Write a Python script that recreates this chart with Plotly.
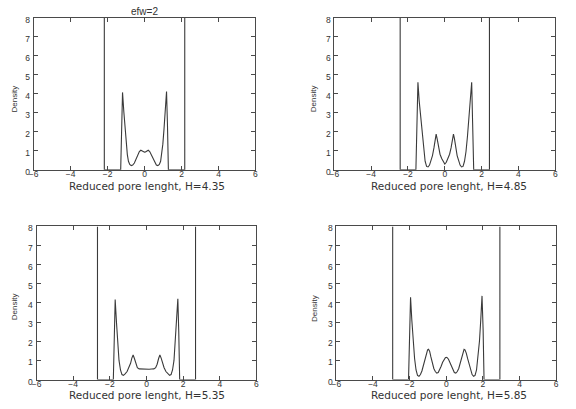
import plotly.graph_objects as go

W, H_PX = 576, 409

# ---- data ----
H_VALUES = [4.35, 4.85, 5.35, 5.85]
WALLS = [2.175, 2.425, 2.675, 2.925]          # wall positions (±H/2)
WALL_TOP = 8.0

P1_X = [-1.29, -1.24, -1.19, -1.12, -1.05, -0.99, -0.93, -0.87, -0.80, -0.72, -0.64, -0.55,
        -0.46, -0.37, -0.28, -0.20, -0.12, -0.05, 0.0, 0.05, 0.12, 0.20, 0.28, 0.37, 0.46,
        0.55, 0.64, 0.72, 0.80, 0.87, 0.93, 0.99, 1.05, 1.12, 1.19, 1.24, 1.29]
P1_Y = [0, 2.4, 4.07, 3.05, 2.1, 1.35, 0.8, 0.45, 0.28, 0.22, 0.25, 0.36,
        0.55, 0.78, 0.96, 1.03, 0.99, 0.94, 0.93, 0.94, 0.99, 1.03, 0.96, 0.78, 0.55,
        0.36, 0.25, 0.22, 0.28, 0.45, 0.8, 1.35, 2.1, 3.1, 4.12, 2.4, 0]

P2_X = [-1.57, -1.51, -1.46, -1.39, -1.31, -1.23, -1.15, -1.07, -0.99, -0.91, -0.83, -0.75,
        -0.67, -0.59, -0.52, -0.47, -0.41, -0.34, -0.26, -0.17, -0.08, 0.0, 0.08, 0.17,
        0.26, 0.34, 0.41, 0.47, 0.52, 0.59, 0.67, 0.75, 0.83, 0.91, 0.99, 1.07, 1.15,
        1.23, 1.31, 1.39, 1.46, 1.51, 1.57]
P2_Y = [0, 2.5, 4.6, 3.6, 2.75, 1.75, 0.95, 0.45, 0.18, 0.15, 0.25, 0.5,
        0.75, 1.15, 1.65, 1.88, 1.6, 1.15, 0.82, 0.6, 0.4, 0.3, 0.4, 0.6,
        0.82, 1.15, 1.6, 1.88, 1.65, 1.15, 0.75, 0.5, 0.25, 0.15, 0.18, 0.45, 0.95,
        1.75, 2.75, 3.6, 4.6, 2.5, 0]

P3_X = [-1.81, -1.76, -1.71, -1.64, -1.57, -1.50, -1.42, -1.34, -1.26, -1.18, -1.06, -0.96,
        -0.87, -0.80, -0.73, -0.66, -0.58, -0.50, -0.40, -0.28, -0.14, 0.0, 0.14, 0.28,
        0.40, 0.50, 0.58, 0.66, 0.73, 0.80, 0.87, 0.96, 1.06, 1.18, 1.26, 1.34, 1.42,
        1.50, 1.57, 1.64, 1.71, 1.76, 1.81]
P3_Y = [0, 2.5, 4.18, 3.0, 1.9, 1.0, 0.5, 0.26, 0.22, 0.28, 0.42, 0.62,
        0.85, 1.12, 1.28, 1.1, 0.8, 0.62, 0.56, 0.55, 0.54, 0.54, 0.54, 0.55,
        0.56, 0.62, 0.8, 1.1, 1.28, 1.12, 0.85, 0.62, 0.42, 0.28, 0.22, 0.26, 0.5,
        1.0, 1.9, 3.0, 4.22, 2.5, 0]

P4_X = [-2.06, -2.01, -1.95, -1.88, -1.81, -1.73, -1.65, -1.57, -1.49, -1.41, -1.33, -1.25,
        -1.17, -1.09, -1.02, -0.97, -0.91, -0.84, -0.76, -0.68, -0.60, -0.52, -0.44, -0.36,
        -0.28, -0.20, -0.12, -0.05, 0.0, 0.05, 0.12, 0.20, 0.28, 0.36, 0.44, 0.52, 0.60,
        0.68, 0.76, 0.84, 0.91, 0.97, 1.02, 1.09, 1.17, 1.25, 1.33, 1.41, 1.49, 1.57,
        1.65, 1.73, 1.81, 1.88, 1.95, 2.01, 2.06]
P4_Y = [0, 2.6, 4.3, 3.1, 2.0, 1.1, 0.5, 0.22, 0.17, 0.26, 0.45, 0.75,
        1.08, 1.38, 1.55, 1.58, 1.48, 1.18, 0.85, 0.58, 0.42, 0.34, 0.37, 0.5,
        0.7, 0.9, 1.06, 1.14, 1.16, 1.14, 1.06, 0.9, 0.7, 0.5, 0.37, 0.34, 0.42,
        0.58, 0.85, 1.18, 1.48, 1.58, 1.55, 1.38, 1.08, 0.75, 0.45, 0.26, 0.17, 0.22,
        0.5, 1.1, 2.0, 3.1, 4.37, 2.6, 0]

PROFILES = [(P1_X, P1_Y), (P2_X, P2_Y), (P3_X, P3_Y), (P4_X, P4_Y)]
X_TICKS = [-6, -4, -2, 0, 2, 4, 6]
Y_TICKS = [0, 1, 2, 3, 4, 5, 6, 7, 8]
TITLE = "efw=2"
X_LABEL = "Reduced pore lenght, H={}"
Y_LABEL = "Density"

# ---- layout (pixel boxes of the four axes) ----
BOXES = [(29, 254, 15, 171), (334, 558, 15, 171), (32, 255, 229, 386), (336, 559, 229, 386)]
XLAB_POS = [(144, 188), (450, 188), (144, 402), (450, 402)]
YLAB_POS = [(10, 98), (313, 98), (10, 311), (314, 313)]

LINE = "#3a3a3a"
AX = "#4a4a4a"
FONT = "Liberation Sans, Arial, sans-serif"

fig = go.Figure()
layout = dict(width=W, height=H_PX, margin=dict(l=0, r=0, t=0, b=0),
              paper_bgcolor="white", plot_bgcolor="white", showlegend=False,
              font=dict(family=FONT, color="#333"))
annotations = []

for i, ((px, py), w, h, box) in enumerate(zip(PROFILES, WALLS, H_VALUES, BOXES)):
    k = "" if i == 0 else str(i + 1)
    xs = [-w, -w] + list(px) + [w, w]
    ys = [WALL_TOP, 0] + list(py) + [0, WALL_TOP]
    fig.add_trace(go.Scatter(x=xs, y=ys, mode="lines", xaxis="x" + k, yaxis="y" + k,
                             line=dict(color=LINE, width=1.1), hoverinfo="skip"))
    x0, x1, y0, y1 = box
    common = dict(showline=True, linecolor=AX, linewidth=1, mirror="ticks",
                  ticks="inside", ticklen=4, tickcolor=AX, tickwidth=1,
                  showgrid=False, zeroline=False, fixedrange=True,
                  tickfont=dict(size=8.5, family=FONT, color="#333"))
    layout["xaxis" + k] = dict(domain=[x0 / W, x1 / W], range=[-6, 6], tickvals=X_TICKS,
                               anchor="y" + k, ticklabelstandoff=-4, **common)
    layout["yaxis" + k] = dict(domain=[1 - y1 / H_PX, 1 - y0 / H_PX], range=[0, 8],
                               tickvals=Y_TICKS, anchor="x" + k, ticklabelstandoff=1,
                               ticklabelshift=2, **common)
    lx, ly = XLAB_POS[i]
    annotations.append(dict(text=X_LABEL.format(h), x=lx / W, y=1 - ly / H_PX,
                            xref="paper", yref="paper", showarrow=False,
                            xanchor="center", yanchor="middle",
                            font=dict(size=10.5, family="DejaVu Sans, " + FONT, color="#333")))
    dx, dy = YLAB_POS[i]
    annotations.append(dict(text=Y_LABEL, x=dx / W, y=1 - dy / H_PX, textangle=-90,
                            xref="paper", yref="paper", showarrow=False,
                            xanchor="center", yanchor="middle",
                            font=dict(size=8, family="Liberation Sans Narrow, " + FONT,
                                      color="#333")))

annotations.append(dict(text=TITLE, x=141.5 / W, y=1 - 9 / H_PX, xref="paper", yref="paper",
                        showarrow=False, xanchor="center", yanchor="middle",
                        font=dict(size=10, family=FONT, color="#333")))
layout["annotations"] = annotations
fig.update_layout(**layout)
fig.write_html("out.html", config={"displayModeBar": False},
               post_script="document.body.style.margin='0';document.body.style.overflow='hidden';")
